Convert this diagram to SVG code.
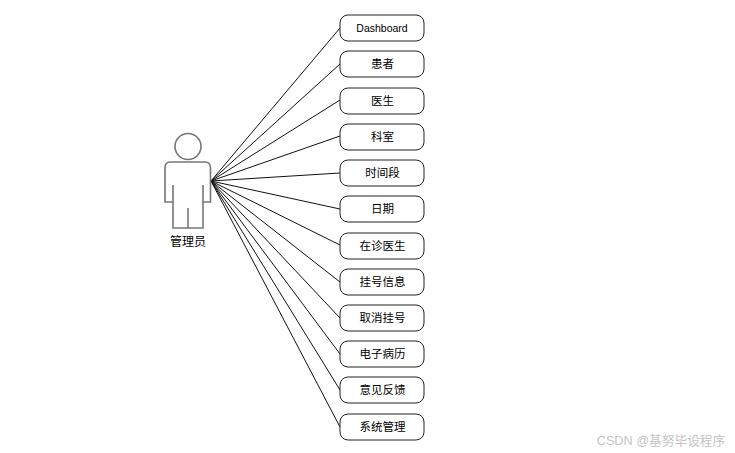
<svg xmlns="http://www.w3.org/2000/svg" width="735" height="453" viewBox="0 0 735 453">
<style>
text{font-family:"Liberation Sans","Noto Sans CJK SC",sans-serif;font-size:11.500px;text-anchor:middle;fill:#000}
.n rect{fill:#fff;stroke:#222;stroke-width:1}
#connectors line{stroke:#111;stroke-width:1}
.a{fill:none;stroke:#777;stroke-width:1.600}
</style>
<rect width="735" height="453" fill="#fff"/>
<g id="connectors">
<line x1="211" y1="181" x2="340" y2="28"/>
<line x1="211" y1="181" x2="340" y2="64"/>
<line x1="211" y1="181" x2="340" y2="100"/>
<line x1="211" y1="181" x2="340" y2="136"/>
<line x1="211" y1="181" x2="340" y2="173"/>
<line x1="211" y1="181" x2="340" y2="209"/>
<line x1="211" y1="181" x2="340" y2="245"/>
<line x1="211" y1="181" x2="340" y2="282"/>
<line x1="211" y1="181" x2="340" y2="318"/>
<line x1="211" y1="181" x2="340" y2="354"/>
<line x1="211" y1="181" x2="340" y2="390"/>
<line x1="211" y1="181" x2="340" y2="427"/>
</g>
<g id="actor">
<circle class="a" cx="188" cy="146.500" r="13"/>
<path class="a" d="M170 162H205Q210.500 162 210.500 168V202H203V228H173V202H165V168Q165 162 170 162Z"/>
<path class="a" d="M173 185V202M203 185V202M188 208V228"/>
<text x="188" y="246" style="font-size:12px">管理员</text>
</g>
<g id="n1" class="n"><rect x="340" y="15" width="84" height="26" rx="8"/><text x="382" y="32" style="font-size:10.500px">Dashboard</text></g>
<g id="n2" class="n"><rect x="340" y="51" width="84" height="26" rx="8"/><text x="382.500" y="68">患者</text></g>
<g id="n3" class="n"><rect x="340" y="88" width="84" height="26" rx="8"/><text x="382.500" y="105">医生</text></g>
<g id="n4" class="n"><rect x="340" y="124" width="84" height="26" rx="8"/><text x="382.500" y="141">科室</text></g>
<g id="n5" class="n"><rect x="340" y="160" width="84" height="26" rx="8"/><text x="382.500" y="177">时间段</text></g>
<g id="n6" class="n"><rect x="340" y="196" width="84" height="26" rx="8"/><text x="382.500" y="213">日期</text></g>
<g id="n7" class="n"><rect x="340" y="233" width="84" height="26" rx="8"/><text x="382.500" y="250">在诊医生</text></g>
<g id="n8" class="n"><rect x="340" y="269" width="84" height="26" rx="8"/><text x="382.500" y="286">挂号信息</text></g>
<g id="n9" class="n"><rect x="340" y="305" width="84" height="26" rx="8"/><text x="382.500" y="322">取消挂号</text></g>
<g id="n10" class="n"><rect x="340" y="341" width="84" height="26" rx="8"/><text x="382.500" y="358">电子病历</text></g>
<g id="n11" class="n"><rect x="340" y="377" width="84" height="26" rx="8"/><text x="382.500" y="394">意见反馈</text></g>
<g id="n12" class="n"><rect x="340" y="414" width="84" height="26" rx="8"/><text x="382.500" y="431">系统管理</text></g>
<text x="661" y="444.500" style="font-size:12.700px;fill:#c4c4c4">CSDN @基努毕设程序</text>
</svg>
